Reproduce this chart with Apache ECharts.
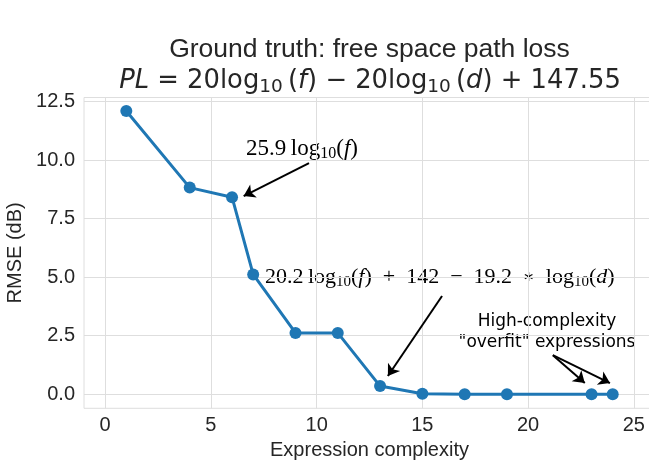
<!DOCTYPE html>
<html>
<head>
<meta charset="utf-8">
<script src="https://cdn.jsdelivr.net/npm/echarts@6/dist/echarts.min.js"></script>
<style>
  html, body { margin: 0; padding: 0; background: #fff; }
  #chart { width: 649px; height: 463px; }
</style>
</head>
<body>
<div id="chart"></div>
<script>
// data
const complexity = [1, 4, 6, 7, 9, 11, 13, 15, 17, 19, 23, 24];
const rmse = [12.10, 8.83, 8.42, 5.12, 2.62, 2.62, 0.35, 0.02, 0, 0, 0, 0];
const xTicks = [0, 5, 10, 15, 20, 25];
const yTicks = [0, 2.5, 5, 7.5, 10, 12.5];

// annotation arrows, [from, to] in data units
const arrows = [
    [[9.64, 9.88], [6.55, 8.47]],
    [[15.93, 4.20], [13.37, 0.78]],
    [[21.17, 1.67], [22.68, 0.48]],
    [[21.17, 1.67], [23.87, 0.48]]
];

const txt = '#262626';
const gridCol = '#dedede';

const chart = echarts.init(document.getElementById('chart'));

const serif = (fs) => ({
    it: { fontFamily: 'Liberation Serif', fontStyle: 'italic', fontSize: fs, lineHeight: 26 },
    s: { fontFamily: 'Liberation Serif', fontSize: Math.round(fs * 0.7), verticalAlign: 'bottom', lineHeight: 24 },
    a: { fontFamily: 'DejaVu Sans', fontSize: 14, lineHeight: 26 }
});
const option = {
    animation: false,
    grid: { left: 84, top: 97.5, right: -6, bottom: 54.7, outerBoundsMode: 'none', containLabel: false,
        show: true, borderColor: gridCol, borderWidth: 1 },
    xAxis: {
        type: 'value', min: -1, max: 26,
        name: 'Expression complexity', nameLocation: 'middle', nameGap: 31,
        nameTextStyle: { fontFamily: 'Liberation Sans', fontSize: 20, color: txt },
        axisLine: { show: false }, axisTick: { show: false, customValues: xTicks },
        axisLabel: { customValues: xTicks, fontFamily: 'Liberation Sans', fontSize: 20, color: txt, margin: 7 },
        splitLine: { show: true, lineStyle: { color: gridCol, width: 1 } }
    },
    yAxis: {
        type: 'value', min: -0.6, max: 12.68,
        name: 'RMSE (dB)', nameLocation: 'middle', nameGap: 59,
        nameTextStyle: { fontFamily: 'Liberation Sans', fontSize: 20, color: txt },
        axisLine: { show: false }, axisTick: { show: false, customValues: yTicks },
        axisLabel: { customValues: yTicks, fontFamily: 'Liberation Sans', fontSize: 20, color: txt, margin: 9,
            formatter: v => v.toFixed(1) },
        splitLine: { show: true, lineStyle: { color: gridCol, width: 1 } }
    },
    series: [{
        type: 'line',
        data: complexity.map((c, i) => [c, rmse[i]]),
        symbol: 'circle', symbolSize: 12,
        itemStyle: { color: '#1f77b4' },
        lineStyle: { color: '#1f77b4', width: 3 },
        markLine: {
            silent: true, animation: false,
            symbol: ['none', 'arrow'], symbolSize: 11,
            label: { show: false },
            lineStyle: { color: '#000', width: 2, type: 'solid' },
            data: arrows.map(a => [{ coord: a[0] }, { coord: a[1] }])
        }
    }],
    graphic: [
        { type: 'text', x: 369.5, y: 50, style: { text: 'Ground truth: free space path loss',
            font: '26.5px "Liberation Sans"', fill: txt, align: 'center', verticalAlign: 'middle' } },
        { type: 'text', x: 370, y: 81, style: {
            text: '{it|PL} = 20log{s|10}\u2009({it|f}) \u2212 20log{s|10}\u2009({it|d}) + 147.55',
            font: '25.8px "DejaVu Sans"', fill: txt, align: 'center', verticalAlign: 'middle',
            rich: { it: { fontFamily: 'DejaVu Sans', fontStyle: 'oblique', fontSize: 25.8, lineHeight: 32 },
                    s: { fontFamily: 'DejaVu Sans', fontSize: 18.5, verticalAlign: 'bottom', lineHeight: 32 } } } },
        { type: 'text', x: 246, y: 149, style: {
            text: '25.9\u2009log{s|10}({it|f})',
            font: '23px "Liberation Serif"', fill: '#000', align: 'left', verticalAlign: 'middle',
            rich: serif(23) } },
        { type: 'text', x: 265, y: 277, style: {
            text: '20.2\u2009log{s|10}({it|f})\u2002+\u2002142\u2002\u2212\u200219.2\u2002{a|\u2217}\u2002log{s|10}({it|d})',
            font: '22px "Liberation Serif"', fill: '#000', align: 'left', verticalAlign: 'middle',
            rich: serif(22) } },
        { type: 'text', x: 547, y: 332, style: {
            text: 'High-complexity\n"overfit" expressions',
            font: '17px "DejaVu Sans"', fill: '#000', align: 'center', verticalAlign: 'middle', lineHeight: 21 } }
    ]
};
chart.setOption(option);
</script>
</body>
</html>
